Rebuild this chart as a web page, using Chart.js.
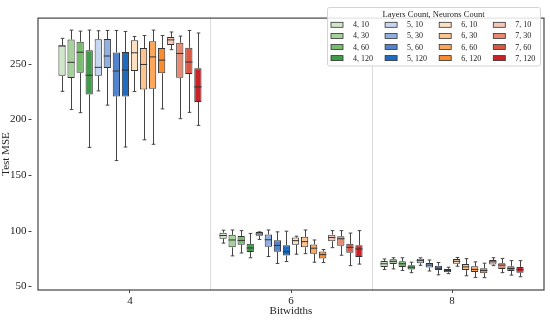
<!DOCTYPE html>
<html>
<head>
<meta charset="utf-8">
<script src="https://cdn.jsdelivr.net/npm/chart.js@4"></script>
<style>
  html, body { margin: 0; padding: 0; background: #fff; }
</style>
</head>
<body>
<canvas id="chart" width="550" height="320"></canvas>
<script>
// bitwidth categories on the x axis
const bitwidths = ['4', '6', '8'];

// series = "layers, neurons"
const seriesLabels = ['4, 10', '4, 30', '4, 60', '4, 120',
                      '5, 10', '5, 30', '5, 60', '5, 120',
                      '6, 10', '6, 30', '6, 60', '6, 120',
                      '7, 10', '7, 30', '7, 60', '7, 120'];

const seriesColors = ['#cfe6c8', '#a5d19b', '#77bc6c', '#3f9c47',
                      '#c8d7f1', '#91b0e2', '#5283cd', '#1d6cc1',
                      '#fde0c2', '#fdc48f', '#fca85c', '#f98c2c',
                      '#f6c6b6', '#e78a70', '#d95843', '#cd1f26'];

// box statistics, one row per series: [bw 4, bw 6, bw 8]
const whiskerLow = [
  [225.3, 88.8, 65.1], [208.9, 77.3, 65.6], [206.1, 79.9, 64.2], [174.9, 75.6, 62.2],
  [225.7, 92.1, 68.8], [212.9, 76.7, 63.7], [163.0, 70.5, 60.2], [175.2, 72.2, 61.3],
  [225.1, 78.8, 68.0], [181.7, 79.3, 59.4], [177.7, 71.6, 57.9], [209.5, 71.3, 57.7],
  [262.8, 84.7, 68.5], [200.7, 77.9, 62.2], [206.4, 68.5, 60.0], [194.7, 69.9, 58.5]
];
const quartile1 = [
  [239.3, 92.8, 67.4], [237.3, 85.0, 69.9], [242.1, 87.3, 67.4], [222.5, 80.7, 65.1],
  [239.3, 95.3, 70.7], [246.3, 85.5, 66.8], [220.7, 81.0, 64.5], [220.6, 77.6, 62.5],
  [243.5, 87.4, 70.2], [227.0, 85.0, 64.5], [227.6, 79.3, 62.8], [241.5, 75.0, 61.7],
  [267.0, 90.4, 69.6], [237.6, 86.4, 65.6], [241.0, 80.1, 63.7], [215.7, 76.2, 62.2]
];
const medians = [
  [266.2, 95.6, 70.2], [251.4, 91.6, 72.4], [260.5, 91.2, 70.2], [239.8, 84.4, 67.1],
  [246.9, 97.0, 73.0], [257.1, 91.8, 69.0], [243.6, 86.7, 66.2], [244.4, 81.0, 64.2],
  [260.0, 91.0, 72.4], [249.5, 90.1, 67.4], [256.3, 84.2, 65.1], [253.4, 78.4, 64.2],
  [271.6, 93.8, 71.9], [259.4, 92.7, 69.0], [251.7, 85.0, 65.9], [229.3, 83.5, 64.9]
];
const quartile3 = [
  [266.6, 98.2, 72.8], [271.9, 96.2, 74.2], [269.9, 95.2, 72.4], [262.2, 88.1, 68.8],
  [272.1, 98.7, 74.8], [272.4, 96.6, 71.0], [260.3, 91.3, 68.5], [260.8, 86.9, 65.6],
  [271.3, 93.8, 74.5], [264.2, 94.4, 69.9], [270.4, 87.6, 67.9], [264.2, 81.3, 66.2],
  [274.1, 96.4, 73.6], [269.0, 95.0, 70.7], [264.5, 88.1, 67.9], [246.1, 86.9, 67.4]
];
const whiskerHigh = [
  [273.0, 100.4, 74.5], [280.4, 100.6, 75.6], [279.5, 100.0, 75.6], [280.4, 97.5, 71.6],
  [279.8, 98.9, 75.6], [280.1, 100.6, 73.6], [280.1, 98.9, 71.3], [279.2, 99.5, 67.1],
  [274.7, 95.0, 75.9], [275.5, 100.6, 74.8], [280.4, 91.6, 71.9], [275.5, 83.0, 70.7],
  [278.7, 100.0, 75.6], [275.0, 100.0, 75.0], [280.1, 97.8, 73.0], [277.8, 100.0, 73.0]
];

const yTicks = [50, 100, 150, 200, 250];

const FONT = '"Liberation Serif", "DejaVu Serif", serif';
const INK = '#222';

const datasets = seriesLabels.map((label, i) => ({
  label: label,
  data: bitwidths.map((b, j) => ({ x: j, y: [quartile1[i][j], quartile3[i][j]] })),
  low: whiskerLow[i],
  high: whiskerHigh[i],
  med: medians[i],
  backgroundColor: seriesColors[i],
  borderColor: '#333',
  borderWidth: 1,
  borderSkipped: false,
  categoryPercentage: 0.9,
  barPercentage: 0.8
}));

function hline(ctx, x1, x2, y) {
  ctx.beginPath(); ctx.moveTo(x1, y); ctx.lineTo(x2, y); ctx.stroke();
}
function vline(ctx, x, y1, y2) {
  ctx.beginPath(); ctx.moveTo(x, y1); ctx.lineTo(x, y2); ctx.stroke();
}

const boxPlot = {
  id: 'boxPlot',
  beforeDatasetsDraw(chart) {
    const { ctx, chartArea, scales: { x, y } } = chart;
    ctx.save();
    // light separators between bitwidth groups
    ctx.strokeStyle = '#dadada';
    ctx.lineWidth = 1;
    [0.5, 1.5].forEach(v => {
      const px = Math.round(x.getPixelForValue(v)) + 0.5;
      vline(ctx, px, chartArea.top, chartArea.bottom);
    });
    // whiskers and caps
    ctx.strokeStyle = '#444';
    chart.data.datasets.forEach((ds, i) => {
      chart.getDatasetMeta(i).data.forEach((bar, j) => {
        const cx = Math.round(bar.x) + 0.5;
        const cap = bar.width / 4;
        const yLo = y.getPixelForValue(ds.low[j]);
        const yHi = y.getPixelForValue(ds.high[j]);
        vline(ctx, cx, y.getPixelForValue(quartile1[i][j]), yLo);
        vline(ctx, cx, y.getPixelForValue(quartile3[i][j]), yHi);
        hline(ctx, cx - cap, cx + cap, yLo);
        hline(ctx, cx - cap, cx + cap, yHi);
      });
    });
    ctx.restore();
  },
  afterDatasetsDraw(chart) {
    const { ctx, scales: { y } } = chart;
    ctx.save();
    ctx.strokeStyle = '#333';
    ctx.lineWidth = 1;
    chart.data.datasets.forEach((ds, i) => {
      chart.getDatasetMeta(i).data.forEach((bar, j) => {
        const py = y.getPixelForValue(ds.med[j]);
        hline(ctx, bar.x - bar.width / 2, bar.x + bar.width / 2, py);
      });
    });
    ctx.restore();
  },
  afterDraw(chart) {
    const { ctx, chartArea: a, scales: { y } } = chart;
    ctx.save();
    // axes frame
    ctx.strokeStyle = '#444';
    ctx.lineWidth = 1.2;
    ctx.strokeRect(a.left, a.top, a.right - a.left, a.bottom - a.top);
    // y tick marks
    ctx.lineWidth = 1;
    ctx.strokeStyle = '#444';
    y.ticks.forEach(t => {
      const py = Math.round(y.getPixelForValue(t.value)) + 0.5;
      hline(ctx, 28.5, 31.5, py);
    });

    // legend
    const lx = 327.5, ly = 7.5, lw = 213, lh = 58.5, r = 2;
    ctx.beginPath();
    ctx.moveTo(lx + r, ly);
    ctx.arcTo(lx + lw, ly, lx + lw, ly + lh, r);
    ctx.arcTo(lx + lw, ly + lh, lx, ly + lh, r);
    ctx.arcTo(lx, ly + lh, lx, ly, r);
    ctx.arcTo(lx, ly, lx + lw, ly, r);
    ctx.closePath();
    ctx.fillStyle = 'rgba(255,255,255,0.85)';
    ctx.fill();
    ctx.strokeStyle = '#d4d4d4';
    ctx.stroke();

    ctx.fillStyle = INK;
    ctx.textBaseline = 'middle';
    ctx.textAlign = 'center';
    ctx.font = '8.5px ' + FONT;
    ctx.fillText('Layers Count, Neurons Count', 433.5, 15);

    ctx.textAlign = 'left';
    ctx.font = '8px ' + FONT;
    chart.data.datasets.forEach((ds, i) => {
      const col = Math.floor(i / 4), row = i % 4;
      const sx = 331 + col * 54.1;
      const sy = 24.8 + row * 11.1;
      ctx.fillStyle = ds.backgroundColor;
      ctx.fillRect(sx, sy - 2.5, 12, 5);
      ctx.strokeStyle = '#333';
      ctx.lineWidth = 0.8;
      ctx.strokeRect(sx, sy - 2.5, 12, 5);
      ctx.fillStyle = INK;
      ctx.fillText(ds.label, sx + 22, sy + 0.5);
    });
    ctx.restore();
  }
};

new Chart(document.getElementById('chart'), {
  type: 'bar',
  data: { datasets: datasets },
  plugins: [boxPlot],
  options: {
    responsive: false,
    animation: false,
    layout: { padding: { top: 3, right: 6, left: 0, bottom: 0 } },
    plugins: {
      legend: { display: false },
      tooltip: { enabled: false }
    },
    scales: {
      x: {
        type: 'linear',
        offset: false,
        min: -0.571,
        max: 2.571,
        afterFit: s => { s.height = 30; },
        border: { display: false },
        grid: { offset: false, drawOnChartArea: false, drawTicks: true, tickLength: 3, tickColor: '#444' },
        ticks: {
          stepSize: 1,
          includeBounds: false,
          padding: 2,
          color: INK,
          font: { family: FONT, size: 11 },
          callback: v => bitwidths[v]
        },
        title: {
          display: true,
          text: 'Bitwidths',
          color: INK,
          font: { family: FONT, size: 11 },
          padding: { top: 0, bottom: 2 }
        }
      },
      y: {
        min: 46.6,
        max: 291.2,
        afterFit: s => { s.width = 38; },
        afterBuildTicks: s => { s.ticks = yTicks.map(v => ({ value: v })); },
        border: { display: false },
        grid: { display: false, drawTicks: false },
        ticks: {
          padding: 11.5,
          color: INK,
          font: { family: FONT, size: 11 }
        },
        title: {
          display: true,
          text: 'Test MSE',
          color: INK,
          font: { family: FONT, size: 11 },
          padding: { top: 0, bottom: 0 }
        }
      }
    }
  }
});
</script>
</body>
</html>
